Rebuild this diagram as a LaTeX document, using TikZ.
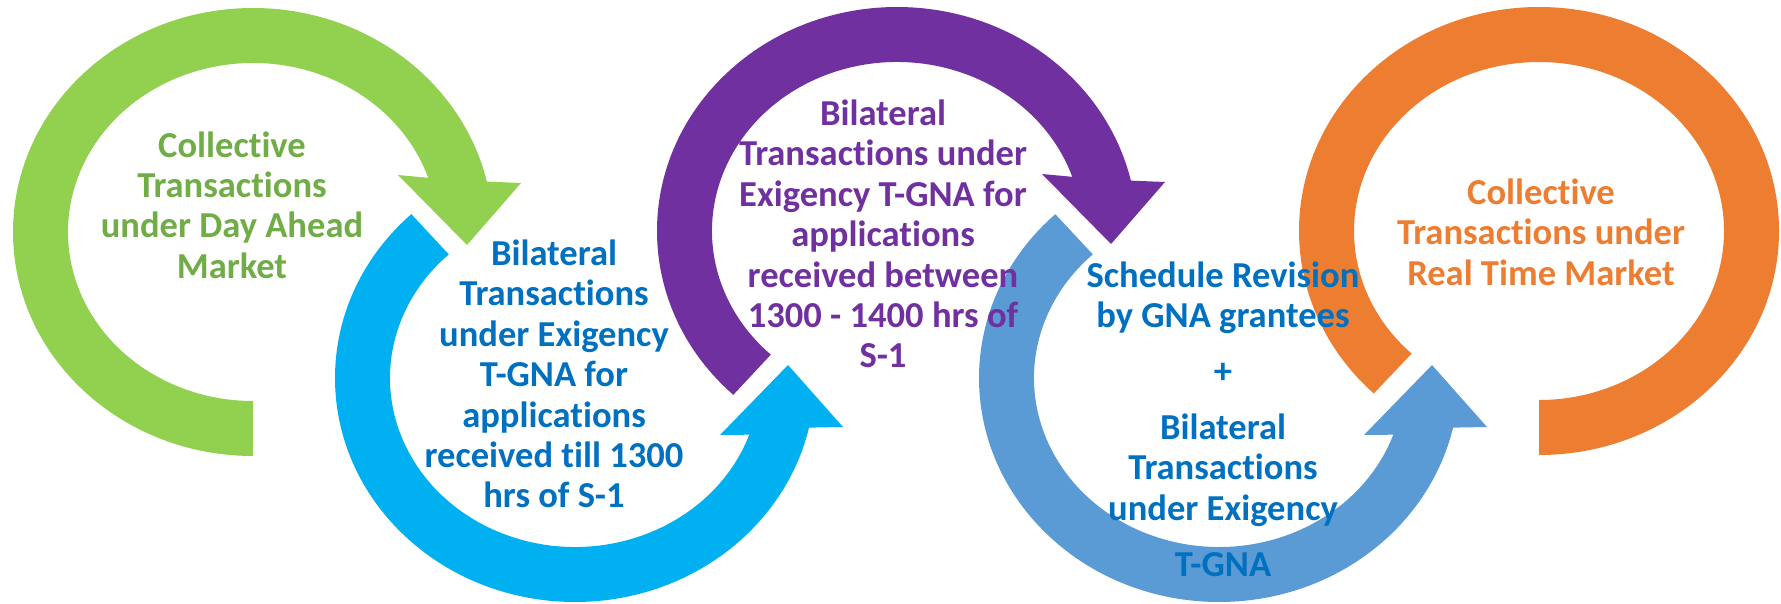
\documentclass[tikz,border=0pt]{standalone}
\usepackage{fontspec}
\setmainfont{Carlito}[Ligatures=NoCommon]
\usetikzlibrary{calc}

\definecolor{ringgreen}{HTML}{92D050}
\definecolor{txtgreen}{HTML}{70AD47}
\definecolor{ringcyan}{HTML}{00B0F0}
\definecolor{txtblue}{HTML}{0070C0}
\definecolor{ringpurple}{HTML}{7030A0}
\definecolor{ringsteel}{HTML}{5B9BD5}
\definecolor{ringorange}{HTML}{ED7D31}

\tikzset{
  lbl/.style={align=center, inner sep=0pt, font=\bfseries\fontsize{20.8}{23}\selectfont},
}

\begin{document}
\begin{tikzpicture}[x=0.02cm,y=0.02cm]
\useasboundingbox (0,0) rectangle (1781,603);
% ring centres
\coordinate (cg) at (253,371);
\coordinate (cc) at (575,225);
\coordinate (cp) at (897,372);
\coordinate (cs) at (1219,225);
\coordinate (co) at (1539,372);

% green ring, head pointing down
\fill[ringgreen] ($(cg)+(-90:240 and 224)$) arc[start angle=-90,end angle=-347,x radius=240,y radius=224]
  -- ($(cg)+(268,49)$) -- ($(cg)+(214,-13)$) -- ($(cg)+(145,57)$)
  -- ($(cg)+(-341.3:185 and 169)$) arc[start angle=-341.3,end angle=-90,x radius=185,y radius=169] -- cycle;

% cyan ring, head pointing up
\fill[ringcyan] ($(cc)+(133:240 and 224)$) arc[start angle=133,end angle=347.2,x radius=240,y radius=224]
  -- ($(cc)+(268,-49)$) -- ($(cc)+(213,13)$) -- ($(cc)+(145,-57)$)
  -- ($(cc)+(340.4:185 and 169)$) arc[start angle=340.4,end angle=133,x radius=185,y radius=169] -- cycle;

% purple ring, head pointing down
\fill[ringpurple] ($(cp)+(227:240 and 224)$) arc[start angle=227,end angle=13,x radius=240,y radius=224]
  -- ($(cp)+(268,49)$) -- ($(cp)+(214,-13)$) -- ($(cp)+(145,57)$)
  -- ($(cp)+(18.7:185 and 169)$) arc[start angle=18.7,end angle=227,x radius=185,y radius=169] -- cycle;

% steel blue ring, head pointing up
\fill[ringsteel] ($(cs)+(133:240 and 224)$) arc[start angle=133,end angle=347.2,x radius=240,y radius=224]
  -- ($(cs)+(268,-49)$) -- ($(cs)+(213,13)$) -- ($(cs)+(145,-57)$)
  -- ($(cs)+(340.4:185 and 169)$) arc[start angle=340.4,end angle=133,x radius=185,y radius=169] -- cycle;

% orange ring, no head
\fill[ringorange] ($(co)+(-90:240 and 224)$) arc[start angle=-90,end angle=226.5,x radius=240,y radius=224]
  -- ($(co)+(226.5:185 and 169)$) arc[start angle=226.5,end angle=-90,x radius=185,y radius=169] -- cycle;

% labels
\node[lbl, text=txtgreen] (dam) at (232,398) {Collective\\Transactions\\under Day Ahead\\Market};
\node[lbl, text=txtblue] (exg1) at (554,229) {Bilateral\\Transactions\\under Exigency\\T-GNA for\\applications\\received till 1300\\hrs of S-1};
\node[lbl, text=ringpurple] (exg2) at (883,369) {Bilateral\\Transactions under\\Exigency T-GNA for\\applications\\received between\\1300 - 1400 hrs of\\S-1};
\node[lbl, text=txtblue] (sched) at (1223,184) {Schedule Revision\\by GNA grantees\\[0.31cm]+\\[0.31cm]Bilateral\\Transactions\\under Exigency\\[0.31cm]T-GNA};
\node[lbl, text=ringorange] (rtm) at (1541,371) {Collective\\Transactions under\\Real Time Market};
\end{tikzpicture}
\end{document}
